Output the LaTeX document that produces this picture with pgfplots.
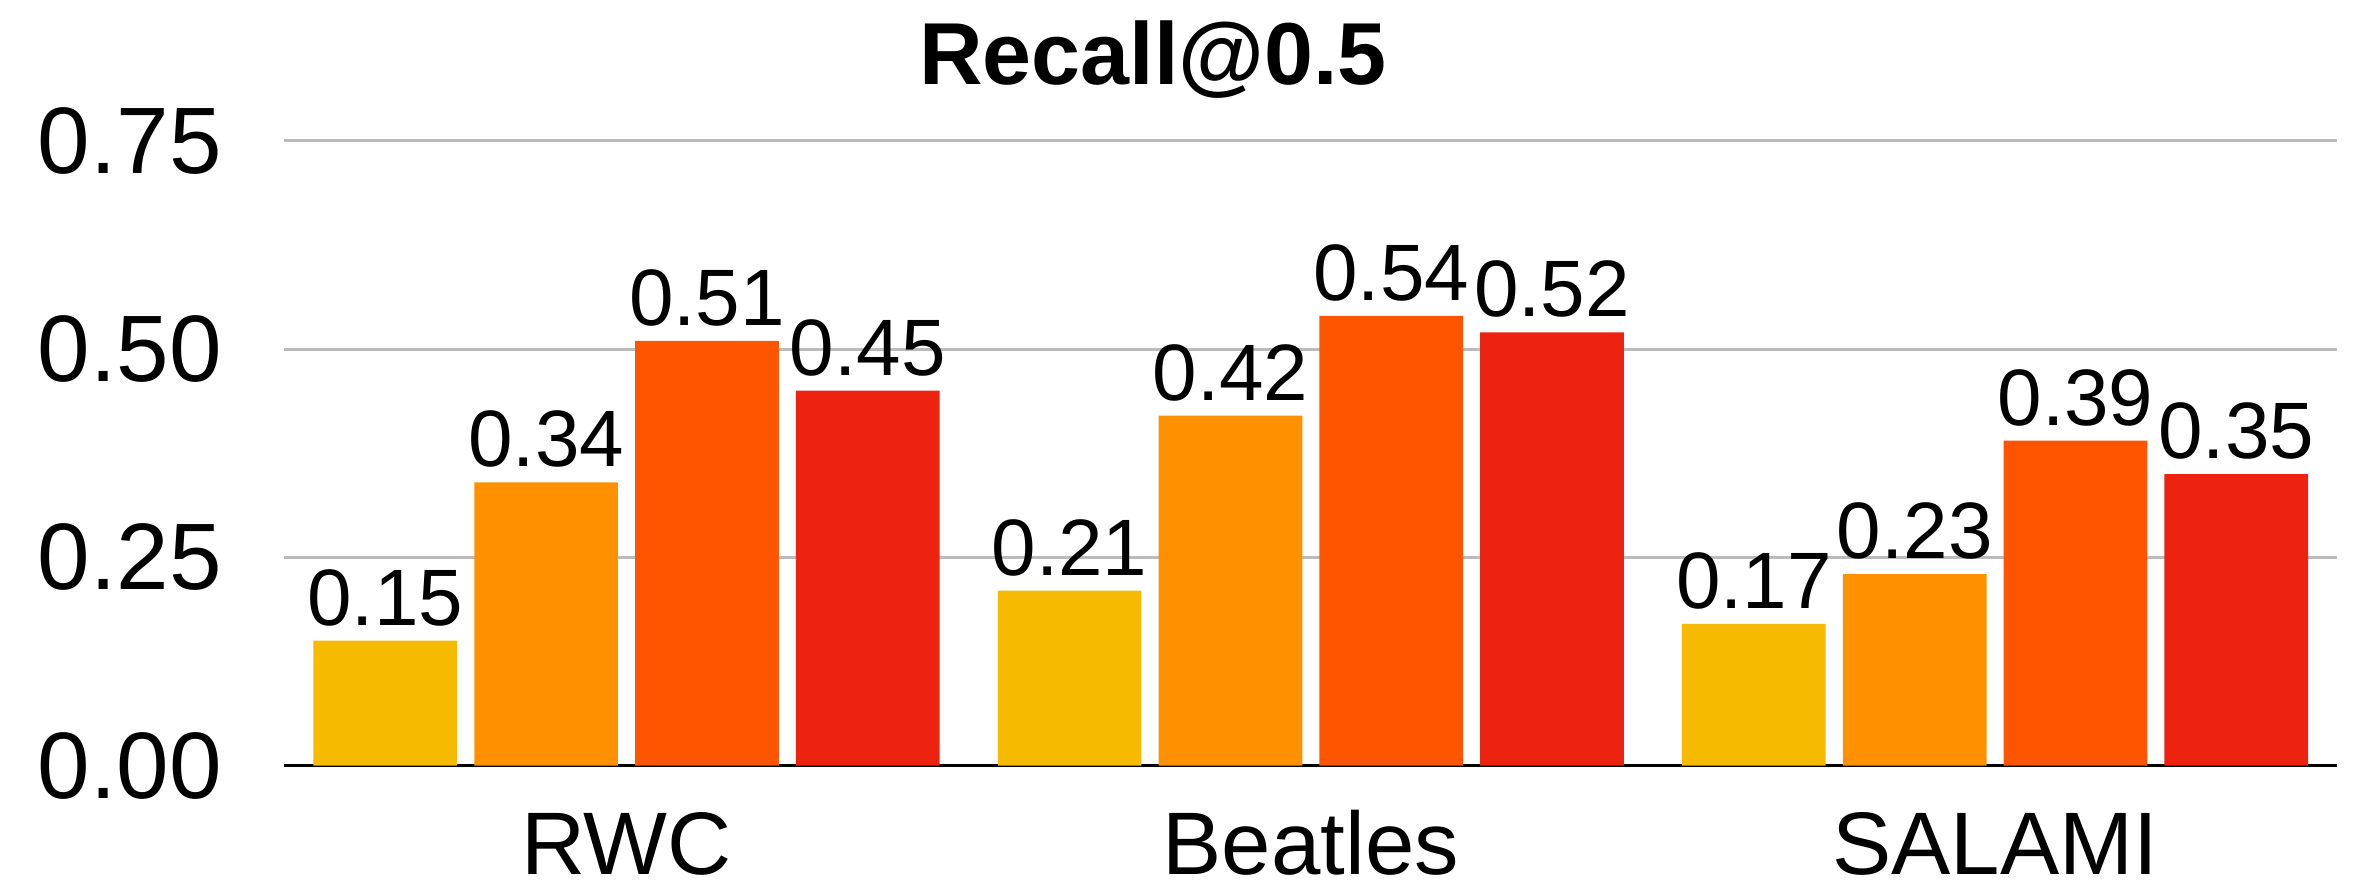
\documentclass[border=0pt]{standalone}
\usepackage{pgfplots}
\usepackage{pgfplotstable}
\usepackage{fontspec}
\pgfplotsset{compat=1.18}
\setmainfont{Liberation Sans}

\definecolor{cYellow}{HTML}{F6BA00}
\definecolor{cOrange}{HTML}{FF9100}
\definecolor{cVermil}{HTML}{FF5500}
\definecolor{cRed}{HTML}{EE2211}
\definecolor{cGrid}{HTML}{BBBBBB}

% Recall@0.5 per dataset, one column per method
\pgfplotstableread{
x  a     b     c     d
0  0.15  0.34  0.51  0.45
1  0.21  0.42  0.54  0.52
2  0.17  0.23  0.39  0.35
}\recall

\begin{document}
\begin{tikzpicture}
\useasboundingbox (-71.1pt,-30.9pt) rectangle (521.9pt,191.4pt);
\begin{axis}[
  at={(0,0)}, anchor=south west,
  scale only axis,
  width=513.2pt, height=156.2pt,
  ybar,
  bar width=0.21,
  xmin=-0.5, xmax=2.5,
  ymin=0, ymax=0.75,
  xtick=data,
  xticklabels={RWC, Beatles, SALAMI},
  ytick={0,0.25,0.5,0.75},
  ymajorgrids,
  grid style={cGrid, line width=0.75pt},
  axis lines*=left,
  y axis line style={draw=none},
  x axis line style={black, line width=0.9pt},
  major tick length=0pt,
  tick style={draw=none},
  /pgf/number format/.cd, fixed, fixed zerofill, precision=2, assume math mode=true,
  /pgfplots/.cd,
  yticklabel style={anchor=east, inner sep=0pt, xshift=-15.5pt,
    font=\fontsize{23.6pt}{28pt}\selectfont},
  xticklabel style={anchor=base, inner sep=0pt, yshift=-27.1pt,
    font=\fontsize{22.2pt}{26pt}\selectfont},
  title={Recall@0.5},
  every axis title/.style={at={(0.4232,1.0909)}, anchor=base, inner sep=0pt,
    font=\fontsize{22pt}{26pt}\selectfont\bfseries},
  nodes near coords,
  every node near coord/.append style={anchor=south, inner sep=0pt, yshift=3.5pt,
    font=\fontsize{20pt}{24pt}\selectfont, black},
  clip=false,
]
\addplot[fill=cYellow, draw=none, bar shift=-0.3525] table[x=x, y=a] {\recall};
\addplot[fill=cOrange, draw=none, bar shift=-0.1175] table[x=x, y=b] {\recall};
\addplot[fill=cVermil, draw=none, bar shift=0.1175] table[x=x, y=c] {\recall};
\addplot[fill=cRed, draw=none, bar shift=0.3525] table[x=x, y=d] {\recall};
\end{axis}
\end{tikzpicture}
\end{document}
